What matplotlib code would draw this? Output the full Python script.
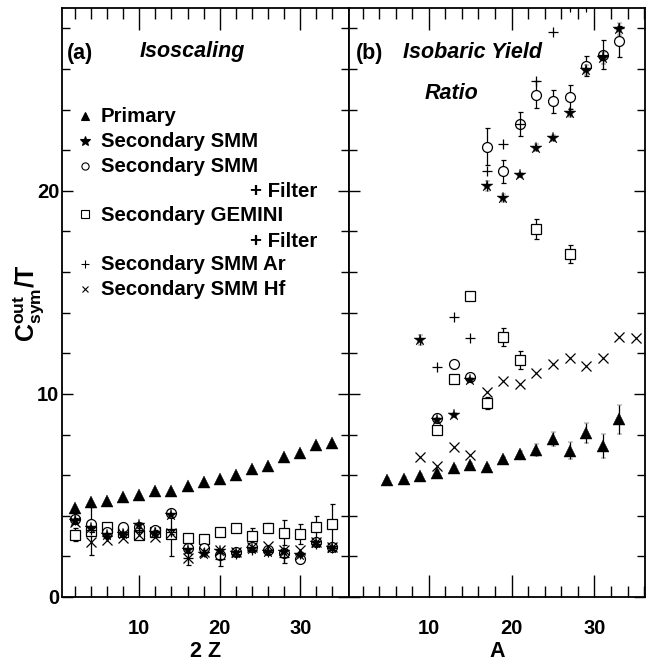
import numpy as np
import matplotlib
matplotlib.use("Agg")
import matplotlib.pyplot as plt
from matplotlib.ticker import MultipleLocator

plt.rcParams['font.family'] = ['Liberation Sans', 'DejaVu Sans']
plt.rcParams['font.weight'] = 'bold'
plt.rcParams['mathtext.fontset'] = 'custom'
plt.rcParams['mathtext.rm'] = 'Liberation Sans:bold'
plt.rcParams['mathtext.bf'] = 'Liberation Sans:bold'
plt.rcParams['mathtext.it'] = 'Liberation Sans:bold'

nan = np.nan

# ---------------- Panel (a): Isoscaling, x = 2Z ----------------
z2 = [2, 4, 6, 8, 10, 12, 14, 16, 18, 20, 22, 24, 26, 28, 30, 32, 34]
prim_a = [4.40, 4.70, 4.73, 4.94, 5.02, 5.22, 5.22, 5.48, 5.67, 5.83, 6.01, 6.31, 6.45, 6.88, 7.08, 7.50, 7.58]
smm_a = [3.76, 3.38, 3.05, 3.10, 3.54, 3.17, 4.04, 2.32, 2.10, 2.28, 2.15, 2.34, 2.23, 2.22, 2.05, 2.65, 2.40]
smmf_a = [3.85, 3.60, 3.20, 3.43, 3.46, 3.30, 4.12, 2.40, 2.40, 2.07, 2.20, 2.45, 2.30, 2.15, 1.86, 2.73, 2.45]
gem_a = [3.07, 3.25, 3.46, 3.21, 3.05, 3.21, 3.10, 2.89, 2.84, 3.21, 3.38, 3.00, 3.42, 3.17, 3.10, 3.46, 3.60]
gem_a_err = [0.33, 1.20, 0.10, 0.10, 0.15, 0.15, 1.10, 0.10, 0.10, 0.10, 0.20, 0.40, 0.20, 0.60, 0.50, 0.55, 1.00]
ar_a = [3.80, 3.30, 3.00, 3.10, 3.30, 3.20, 3.20, 1.90, 2.20, 1.85, 2.10, 2.30, 2.20, 1.95, 2.10, 2.60, 2.40]
ar_a_err = [0.10, 0.10, 0.10, 0.10, 0.10, 0.10, 0.10, 0.30, 0.10, 0.30, 0.10, 0.10, 0.10, 0.30, 0.10, 0.10, 0.10]
hf_a = [3.70, 2.73, 2.80, 2.89, 3.05, 2.97, 3.14, 1.90, 2.20, 2.30, 2.20, 2.48, 2.50, 2.30, 2.32, 2.70, 2.45]

# ---------------- Panel (b): Isobaric yield ratio, x = A ----------------
amass = [5, 7, 9, 11, 13, 15, 17, 19, 21, 23, 25, 27, 29, 31, 33, 35]
prim_b = [5.76, 5.80, 5.96, 6.12, 6.37, 6.50, 6.42, 6.78, 7.03, 7.24, 7.77, 7.21, 8.06, 7.44, 8.75, nan]
prim_b_err = [0.10, 0.10, 0.10, 0.12, 0.10, 0.12, 0.10, 0.12, 0.15, 0.30, 0.35, 0.43, 0.50, 0.59, 0.72, nan]
smm_b = [nan, nan, 12.66, 8.72, 8.97, 10.70, 20.25, 19.64, 20.79, 22.13, 22.59, 23.83, 25.93, 26.53, 27.96, nan]
smm_b_err = [nan, nan, 0.25, 0.10, 0.10, 0.10, 0.25, 0.20, 0.10, 0.15, 0.15, 0.20, 0.25, 0.30, 0.30, nan]
smmf_b = [nan, nan, nan, 8.80, 11.48, 10.85, 22.18, 20.95, 23.30, 24.73, 24.40, 24.61, 26.16, 26.70, 27.36, nan]
smmf_b_err = [nan, nan, nan, 0.10, 0.15, 0.10, 0.90, 0.55, 0.58, 0.67, 0.57, 0.60, 0.50, 0.70, 0.75, nan]
gem_b = [nan, nan, nan, 8.23, 10.72, 14.83, 9.57, 12.79, 11.67, 18.13, nan, 16.90, nan, nan, nan, nan]
gem_b_err = [nan, nan, nan, 0.10, 0.10, 0.20, 0.30, 0.45, 0.45, 0.50, nan, 0.45, nan, nan, nan, nan]
ar_b = [nan, nan, nan, 11.30, 13.81, 12.77, 20.95, 22.30, 23.30, 25.42, 27.80, 29.05, 29.05, 26.70, 28.00, nan]
hf_b = [nan, nan, 6.91, 6.45, 7.40, 7.00, 10.11, 10.64, 10.49, 11.05, 11.48, 11.76, 11.35, 11.76, 12.79, 12.74]

W, H = 654, 661
fig = plt.figure(figsize=(W / 100, H / 100), dpi=100)

def px_axes(x0, x1, y0, y1):
    return fig.add_axes([x0 / W, 1 - y1 / H, (x1 - x0) / W, (y1 - y0) / H])

axa = px_axes(62, 349, 8, 597)
axb = px_axes(349, 645, 8, 597)

ms = 6.2
ekw = dict(elinewidth=0.9, capsize=1.8, capthick=0.9, ecolor='black', linestyle='none')
open_kw = dict(mfc='white', mec='black', mew=0.9)

def draw(ax, x, prim, prim_err, smm, smm_err, smmf, smmf_err, gem, gem_err, ar, ar_err, hf):
    ax.errorbar(x, gem, yerr=gem_err, fmt='s', ms=ms * 1.05, zorder=3, **open_kw, **ekw)
    ax.errorbar(x, smmf, yerr=smmf_err, fmt='o', ms=ms * 1.15, zorder=3, **open_kw, **ekw)
    ax.plot(x, hf, 'x', ms=ms * 1.05, mec='black', mew=0.9, linestyle='none', zorder=4)
    ax.errorbar(x, ar, yerr=ar_err, fmt='+', ms=ms * 1.05, mec='black', mew=0.9, zorder=4, **ekw)
    ax.errorbar(x, smm, yerr=smm_err, fmt='*', ms=ms * 1.45, mfc='black', mec='black', mew=0.3, zorder=5, **ekw)
    ax.errorbar(x, prim, yerr=prim_err, fmt='^', ms=ms * 1.3, mfc='black', mec='black', mew=0.3, zorder=5, **ekw)

draw(axa, z2, prim_a, None, smm_a, None, smmf_a, None, gem_a, gem_a_err, ar_a, ar_a_err, hf_a)
draw(axb, amass, prim_b, prim_b_err, smm_b, smm_b_err, smmf_b, smmf_b_err, gem_b, gem_b_err, ar_b, None, hf_b)

for ax, xl in ((axa, (0.4, 36.05)), (axb, (0.37, 36.1))):
    ax.set_xlim(*xl)
    ax.set_ylim(0, 29)
    ax.set_xticks([10, 20, 30])
    ax.set_yticks([0, 10, 20])
    ax.xaxis.set_minor_locator(MultipleLocator(2))
    ax.yaxis.set_minor_locator(MultipleLocator(2))
    ax.tick_params(which='both', direction='in', top=True, right=True, width=1.0,
                   labelsize=14.5, colors='black')
    ax.tick_params(axis='x', which='major', length=16, pad=16)
    ax.tick_params(axis='x', which='minor', length=8)
    ax.tick_params(axis='y', which='major', length=8, pad=2)
    ax.tick_params(axis='y', which='minor', length=6)
    for s in ax.spines.values():
        s.set_linewidth(1.3)

axb.tick_params(axis='y', labelleft=False)
axa.set_xlabel('2 Z', fontsize=15.5, fontweight='bold', labelpad=2)
axb.set_xlabel('A', fontsize=15.5, fontweight='bold', labelpad=2)
fig.text(29 / W, 1 - 303 / H, r'$\mathbf{C^{out}_{sym}/T}$', rotation=90,
         fontsize=18, ha='center', va='center')

# panel titles
def ftext(x, y, s, **kw):
    fig.text(x / W, 1 - y / H, s, va='baseline', **kw)

ftext(67, 58.5, '(a)', fontsize=15.5, fontweight='bold')
ftext(140, 57.5, 'Isoscaling', fontsize=15.5, fontweight='bold', style='italic')
ftext(356, 58.5, '(b)', fontsize=15.5, fontweight='bold')
ftext(403, 57.5, 'Isobaric Yield', fontsize=15.5, fontweight='bold', style='italic')
ftext(425, 99.3, 'Ratio', fontsize=15.5, fontweight='bold', style='italic')

# legend (drawn manually, axes pixel placement)
def to_ax(x, y):
    return ((x - 62) / 287, (597 - y) / 589)

leg_markers = [('^', 116, 'black', 6.0), ('*', 140.7, 'black', 7.5), ('o', 165.7, 'white', 5.2),
               ('s', 214.3, 'white', 5.5), ('+', 264.3, 'white', 5.5), ('x', 288.7, 'white', 4.5)]
for m, y, fc, sz in leg_markers:
    xa, ya = to_ax(85, y)
    axa.plot([xa], [ya], m, transform=axa.transAxes, ms=sz, mfc=fc, mec='black', mew=0.8,
             clip_on=False)

leg_texts = [('Primary', 121.7, 'left'), ('Secondary SMM', 147.3, 'left'),
             ('Secondary SMM', 171.7, 'left'), ('+ Filter', 197.3, 'right'),
             ('Secondary GEMINI', 220.7, 'left'), ('+ Filter', 246.7, 'right'),
             ('Secondary SMM Ar', 270.0, 'left'), ('Secondary SMM Hf', 295.0, 'left')]
for s, y, ha in leg_texts:
    x = 101 if ha == 'left' else 317
    ftext(x, y, s, fontsize=14.7, fontweight='bold', ha=ha)

fig.savefig('out.png', dpi=100)
